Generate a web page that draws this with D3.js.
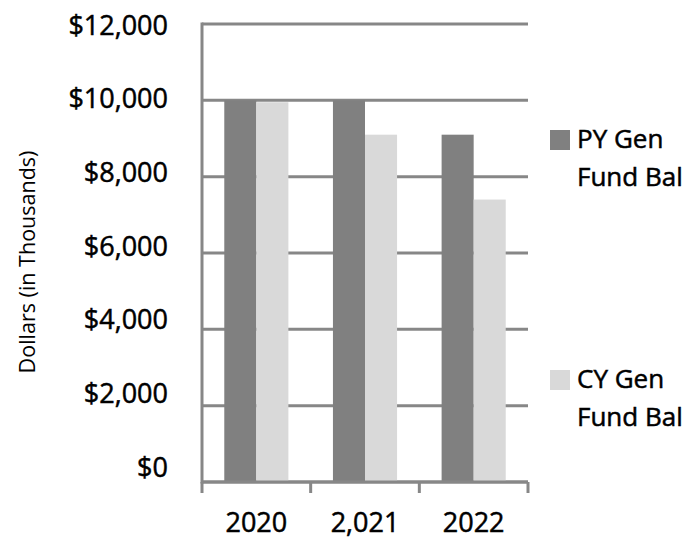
<!DOCTYPE html>
<html>
<head>
<meta charset="utf-8">
<script src="https://cdn.jsdelivr.net/npm/d3@7"></script>
<style>
  html, body { margin: 0; padding: 0; background: #ffffff; }
  svg { display: block; font-family: "Open Sans", sans-serif; }
  .lbl { stroke: #000000; stroke-width: 0.5px; }
</style>
</head>
<body>
<svg id="chart" width="697" height="539"></svg>
<script>
// General fund balances, dollars in thousands
const categories = ["2020", "2,021", "2022"];
const seriesNames = ["PY Gen Fund Bal", "CY Gen Fund Bal"];
const pyValues = [10000, 10000, 9100];
const cyValues = [9950, 9100, 7400];
const yTicks = [0, 2000, 4000, 6000, 8000, 10000, 12000];
const legendLines = [["PY Gen", "Fund Bal"], ["CY Gen", "Fund Bal"]];

const colors = ["#808080", "#d9d9d9"];
const gridColor = "#878787";
const textColor = "#000000";

const svg = d3.select("#chart");
const plot = { left: 202, right: 528, top: 24, bottom: 482 };

const y = d3.scaleLinear().domain([0, 12000]).range([plot.bottom, plot.top]);
// tick labels sit on a slightly tighter spacing than the gridlines
const yLabel = d3.scaleLinear().domain([0, 12000]).range([466, 24]);

const x0 = d3.scaleBand().domain(categories)
  .range([plot.left, plot.right])
  .paddingInner(0.41).paddingOuter(0.205);
const x1 = d3.scaleBand().domain(seriesNames).range([0, x0.bandwidth()]);

// gridlines
svg.append("g").selectAll("line").data(yTicks).join("line")
  .attr("x1", plot.left).attr("x2", plot.right)
  .attr("y1", d => y(d)).attr("y2", d => y(d))
  .attr("stroke", gridColor).attr("stroke-width", 3);

// bars
const rows = categories.map((c, i) => ({ cat: c, vals: [pyValues[i], cyValues[i]] }));
svg.append("g").selectAll("g").data(rows).join("g")
  .attr("transform", d => `translate(${x0(d.cat)},0)`)
  .selectAll("rect")
  .data(d => d.vals.map((v, j) => ({ v, s: seriesNames[j], j })))
  .join("rect")
  .attr("x", d => x1(d.s))
  .attr("width", x1.bandwidth())
  .attr("y", d => y(d.v))
  .attr("height", d => y(0) - y(d.v))
  .attr("fill", d => colors[d.j]);

// left axis line
svg.append("line")
  .attr("x1", plot.left).attr("x2", plot.left)
  .attr("y1", y(12000) - 1.5).attr("y2", y(0) + 1.5)
  .attr("stroke", gridColor).attr("stroke-width", 3);

// bottom axis line and category dividers
svg.append("line")
  .attr("x1", plot.left).attr("x2", plot.right)
  .attr("y1", y(0)).attr("y2", y(0))
  .attr("stroke", gridColor).attr("stroke-width", 3);
const dividers = d3.range(categories.length + 1).map(i => plot.left + i * (plot.right - plot.left) / categories.length);
svg.append("g").selectAll("line").data(dividers).join("line")
  .attr("x1", d => d).attr("x2", d => d)
  .attr("y1", y(0)).attr("y2", y(0) + 11)
  .attr("stroke", gridColor).attr("stroke-width", 3);

// y tick labels
const fmt = d => "$" + d3.format(",")(d);
svg.append("g").selectAll("text").data(yTicks).join("text")
  .attr("class", "lbl")
  .attr("x", 168).attr("y", d => yLabel(d))
  .attr("text-anchor", "end").attr("dominant-baseline", "central")
  .attr("font-size", 27).attr("fill", textColor)
  .text(fmt);

// x labels
svg.append("g").selectAll("text").data(categories).join("text")
  .attr("class", "lbl")
  .attr("x", d => x0(d) + x0.bandwidth() / 2)
  .attr("y", 532)
  .attr("text-anchor", "middle")
  .attr("font-size", 27).attr("fill", textColor)
  .text(d => d);

// y axis title
svg.append("text")
  .attr("transform", "translate(35,262) rotate(-90)")
  .attr("text-anchor", "middle")
  .attr("font-size", 21.5).attr("fill", textColor)
  .text("Dollars (in Thousands)");

// legend
const legendTop = [130, 370];
const lg = svg.append("g").selectAll("g").data(seriesNames).join("g")
  .attr("transform", (d, i) => `translate(550,${legendTop[i]})`);
lg.append("rect").attr("width", 20).attr("height", 20).attr("fill", (d, i) => colors[i]);
lg.append("text")
  .attr("class", "lbl")
  .attr("font-size", 26).attr("fill", textColor)
  .selectAll("tspan").data((d, i) => legendLines[i]).join("tspan")
  .attr("x", 27).attr("y", (d, k) => 18 + k * 38)
  .text(d => d);
</script>
</body>
</html>
